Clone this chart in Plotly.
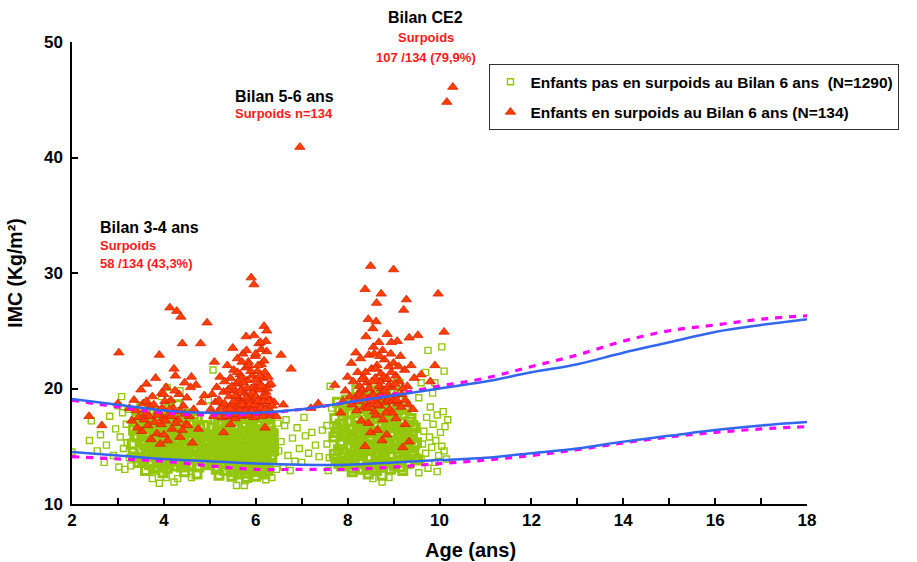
import plotly.graph_objects as go

# ---------------- reference curves (IMC by age) ----------------
curve_age = [2, 3, 4, 5, 6, 7, 8, 9, 10, 11, 12, 13, 14, 15, 16, 17, 18]
upper_blue = [19.1, 18.6, 18.1, 17.9, 17.9, 18.2, 18.8, 19.4, 20.0, 20.6, 21.4, 22.1, 23.1, 24.0, 24.9, 25.5, 26.0]
upper_magenta = [19.0, 18.4, 17.9, 17.7, 17.8, 18.2, 18.8, 19.5, 20.2, 20.9, 21.9, 22.9, 24.1, 25.0, 25.5, 26.0, 26.3]
lower_blue = [14.5, 14.2, 13.9, 13.7, 13.5, 13.4, 13.4, 13.6, 13.8, 14.0, 14.4, 14.8, 15.4, 15.9, 16.4, 16.8, 17.1]
lower_magenta = [14.1, 13.9, 13.7, 13.3, 13.0, 13.0, 13.0, 13.2, 13.5, 13.8, 14.2, 14.7, 15.3, 15.8, 16.2, 16.5, 16.7]

# ---------------- children not overweight (age, IMC) ----------------
green_bilan34_core = [
    (3.31,15.2),(3.34,16.4),(3.36,14.1),(3.38,17.1),(3.42,15.8),(3.44,13.6),(3.47,16.9),(3.49,14.7),
    (3.52,15.5),(3.55,17.6),(3.57,13.9),(3.59,16.2),(3.62,14.4),(3.64,15.9),(3.66,17.3),(3.69,13.4),
    (3.71,16.6),(3.73,14.9),(3.76,15.3),(3.78,17.9),(3.81,14.2),(3.83,16.1),(3.85,13.2),(3.88,15.7),
    (3.9,17.0),(3.92,14.6),(3.95,16.5),(3.97,13.7),(3.99,15.1),(4.02,17.4),(4.04,14.0),(4.06,16.8),
    (4.08,15.4),(4.11,13.5),(4.13,16.3),(4.15,14.8),(4.18,17.7),(4.2,15.0),(4.22,13.3),(4.25,16.0),
    (4.27,14.5),(4.29,17.2),(4.32,15.6),(4.34,13.8),(4.36,16.7),(4.39,14.3),(4.41,15.2),(4.43,17.5),
    (4.46,13.6),(4.48,16.2),(4.5,14.9),(4.53,15.8),(4.55,13.4),(4.57,16.9),(4.6,14.2),(4.62,15.5),
    (4.64,17.1),(4.67,13.9),(4.69,16.4),(4.71,14.7),(4.74,15.3),(4.76,13.2),(4.78,16.6),(4.81,14.4),
    (4.83,15.9),(4.86,13.7),(4.88,16.1),(4.9,14.8),(4.93,15.4),(4.96,13.5),
    (3.33,14.5),(3.37,15.9),(3.41,17.4),(3.46,14.0),(3.5,16.7),(3.54,13.8),(3.58,15.1),(3.61,17.0),
    (3.65,14.2),(3.68,16.0),(3.72,13.5),(3.75,14.8),(3.79,16.4),(3.82,15.5),(3.86,14.4),(3.89,16.2),
    (3.93,13.6),(3.96,15.0),(4.0,16.6),(4.03,14.7),(4.07,13.1),(4.1,15.8),(4.14,17.1),(4.17,14.1),
    (4.21,16.5),(4.24,13.7),(4.28,15.3),(4.31,16.9),(4.35,14.6),(4.38,13.2),(4.42,16.0),(4.45,15.0),
    (4.49,17.8),(4.52,14.0),(4.56,15.7),(4.59,13.3),(4.63,16.3),(4.66,14.6),(4.7,15.0),(4.73,17.4),
    (4.77,13.9),(4.8,15.6),(4.84,14.1),(4.87,16.8),(4.91,13.4),(4.95,15.9),(4.98,14.5),(3.6,12.9),
    (3.98,12.7),(4.45,12.8),(4.72,12.6),(3.8,13.0),(4.12,18.3),(3.7,18.1),(4.3,18.6),(3.52,18.4),
]
green_bilan34_scatter = [
    (2.0,14.5),(2.38,15.5),(2.42,17.2),(2.55,14.6),(2.62,16.0),(2.75,15.1),(2.82,17.6),(2.9,14.2),
    (2.95,16.5),(3.02,13.2),(3.05,15.8),(3.1,17.9),(3.12,14.8),(3.15,13.0),(3.18,16.9),(3.2,15.3),
    (3.22,18.2),(3.25,14.0),(3.28,13.3),(3.0,18.5),(3.08,19.3),(3.95,19.3),(4.05,12.3),(3.9,11.8),
    (4.22,11.9),(4.3,12.2),(3.75,12.2),(4.6,12.3),(4.35,19.8),(2.7,13.6),(4.07,20.1),
]
green_bilan56_core = [
    (5.05,15.0),(5.07,16.6),(5.09,13.8),(5.11,17.3),(5.13,14.6),(5.15,15.8),(5.17,13.2),(5.19,16.9),
    (5.21,14.1),(5.23,15.5),(5.25,17.7),(5.27,13.6),(5.29,16.2),(5.31,14.8),(5.33,12.9),(5.35,15.3),
    (5.37,17.0),(5.39,14.3),(5.41,16.5),(5.43,13.4),(5.45,15.9),(5.47,17.5),(5.49,14.0),(5.51,16.1),
    (5.53,12.8),(5.55,15.2),(5.57,17.2),(5.59,13.7),(5.61,16.7),(5.63,14.5),(5.65,15.6),(5.67,17.9),
    (5.69,13.1),(5.71,16.3),(5.73,14.8),(5.75,15.0),(5.77,12.7),(5.79,17.4),(5.81,14.2),(5.83,16.0),
    (5.85,13.5),(5.87,15.7),(5.89,17.1),(5.91,14.4),(5.93,16.6),(5.95,13.0),(5.97,15.3),(5.99,17.6),
    (6.01,14.1),(6.03,16.2),(6.05,13.6),(6.07,15.9),(6.09,17.0),(6.11,14.7),(6.13,12.9),(6.15,16.4),
    (6.17,15.1),(6.19,13.8),(6.21,17.3),(6.23,14.3),(6.25,15.8),(6.27,13.3),(6.29,16.7),(6.31,14.9),
    (6.33,15.5),(6.35,13.9),(6.37,16.1),(6.39,14.6),
    (5.06,14.2),(5.1,16.0),(5.14,13.0),(5.18,15.1),(5.22,17.0),(5.26,14.9),(5.3,13.5),(5.34,16.4),
    (5.38,15.6),(5.42,14.5),(5.46,13.1),(5.5,17.8),(5.54,14.7),(5.58,16.0),(5.62,12.6),(5.66,14.1),
    (5.7,15.4),(5.74,16.9),(5.78,13.8),(5.82,15.3),(5.86,17.8),(5.9,13.2),(5.94,15.0),(5.98,16.4),
    (6.02,12.8),(6.06,14.9),(6.1,16.8),(6.14,15.5),(6.18,14.0),(6.22,16.0),(6.26,12.9),(6.3,17.6),
    (6.34,14.2),(6.38,15.2),(5.2,12.5),(5.48,12.4),(5.8,12.3),(6.0,12.4),(6.2,12.6),(5.6,18.2),
    (5.84,18.1),(6.06,18.3),(5.4,18.0),(6.25,17.9),(5.55,14.0),(5.72,13.5),(5.92,16.8),(5.64,15.0),
    (5.88,14.6),(5.76,16.2),(5.52,15.9),(6.12,13.4),(5.32,15.2),(5.96,14.0),
    (5.08,15.6),(5.16,16.3),(5.24,14.4),(5.28,15.9),(5.36,13.9),(5.44,16.8),(5.56,15.6),(5.68,14.4),
    (5.86,15.9),(5.94,15.7),(6.04,15.2),(6.16,14.5),(6.24,15.0),(6.32,16.3),(5.46,15.4),(5.66,16.0),
    (5.78,14.9),(6.0,14.7),(5.12,14.9),(5.6,14.2),
]
green_bilan56_scatter = [
    (5.58,11.6),(5.75,11.6),(5.77,12.0),(6.22,12.1),(6.35,12.3),(6.45,13.0),(6.5,14.6),(6.55,15.4),
    (6.6,13.2),(6.63,16.8),(6.7,14.2),(6.75,12.9),(6.8,15.7),(6.85,13.7),(6.9,16.6),(6.95,14.8),
    (7.0,13.6),(7.08,15.9),(7.15,14.4),(7.22,16.2),(7.3,15.1),(7.38,14.1),(7.45,16.4),(6.48,17.0),
    (6.66,17.3),(7.05,17.5),(5.07,21.6),(4.97,19.0),(7.55,15.2),(6.42,16.1),
]
green_ce2_core = [
    (7.7,15.8),(7.72,17.4),(7.75,13.9),(7.77,16.6),(7.8,14.7),(7.82,18.3),(7.85,15.2),(7.87,13.3),
    (7.9,17.0),(7.92,14.4),(7.95,16.1),(7.97,19.0),(8.0,13.7),(8.02,15.6),(8.05,17.8),(8.07,14.9),
    (8.1,16.4),(8.12,13.1),(8.15,18.6),(8.17,15.3),(8.2,14.2),(8.22,17.2),(8.25,16.0),(8.27,13.5),
    (8.3,19.4),(8.32,15.0),(8.35,17.6),(8.37,14.6),(8.4,16.7),(8.42,13.0),(8.45,18.1),(8.47,15.5),
    (8.5,14.0),(8.52,19.8),(8.55,16.3),(8.57,13.4),(8.6,17.4),(8.62,15.1),(8.65,14.3),(8.67,18.8),
    (8.7,16.0),(8.72,13.2),(8.75,17.0),(8.77,15.7),(8.8,14.5),(8.82,19.2),(8.85,16.6),(8.87,13.6),
    (8.9,17.9),(8.92,15.2),(8.95,14.1),(8.97,18.4),(9.0,16.2),(9.02,13.3),(9.05,17.3),(9.07,15.4),
    (9.1,14.4),(9.12,19.0),(9.15,16.5),(9.17,13.8),(9.2,17.7),(9.22,15.0),(9.25,14.6),(9.27,18.2),
    (9.3,16.1),(9.32,13.5),(9.35,17.1),(9.37,15.6),(9.4,14.2),(9.42,16.8),(9.45,15.1),(9.48,13.9),
    (7.71,14.3),(7.74,16.2),(7.78,18.8),(7.81,13.5),(7.84,16.9),(7.88,15.4),(7.91,18.0),(7.94,13.6),
    (7.98,15.9),(8.01,17.2),(8.04,14.1),(8.08,18.9),(8.11,15.6),(8.14,13.9),(8.18,17.5),(8.21,16.2),
    (8.24,14.5),(8.28,18.3),(8.31,13.8),(8.34,16.5),(8.38,15.2),(8.41,19.1),(8.44,14.0),(8.48,17.3),
    (8.51,15.8),(8.54,13.1),(8.58,18.5),(8.61,16.2),(8.64,14.9),(8.68,17.7),(8.71,13.8),(8.74,15.9),
    (8.78,19.5),(8.81,14.0),(8.84,16.8),(8.88,15.1),(8.91,18.6),(8.94,13.5),(8.98,17.0),(9.01,15.5),
    (9.04,14.8),(9.08,18.1),(9.11,16.4),(9.14,13.2),(9.18,15.8),(9.21,17.8),(9.24,14.1),(9.28,16.4),
    (9.31,15.0),(9.34,13.6),(9.38,17.4),(9.41,15.9),(9.44,14.5),(9.47,16.6),(9.5,15.3),(9.52,13.8),
    (8.06,16.0),(8.16,15.0),(8.26,15.8),(8.36,16.9),(8.46,16.4),(8.56,15.0),(8.66,16.2),(8.76,14.2),
    (8.86,15.4),(8.96,16.0),(9.06,16.6),(9.16,15.3),(9.26,16.0),(8.5,17.8),(8.7,14.8),(8.3,14.8),
    (8.9,16.9),(8.4,18.6),(8.6,19.3),(8.8,18.0),(8.2,19.9),(9.0,19.6),(8.33,13.0),(8.63,12.9),
    (8.93,13.0),(8.1,12.8),(9.2,12.9),(8.45,12.6),(8.75,12.5),(9.1,20.4),
]
green_ce2_scatter = [
    (8.75,11.9),(8.55,12.2),(8.9,12.3),(9.55,12.7),(9.6,13.9),(9.63,15.2),(9.66,16.3),(9.7,14.4),
    (9.72,17.5),(9.75,13.1),(9.78,15.8),(9.8,18.4),(9.83,14.9),(9.86,16.9),(9.9,13.6),(9.92,15.5),
    (9.95,17.7),(9.98,14.2),(10.02,16.2),(10.05,15.0),(10.08,18.0),(10.1,14.6),(10.12,16.7),(10.15,13.9),
    (10.18,17.3),(9.75,23.3),(10.05,23.6),(10.1,21.5),(9.6,20.5),(9.85,19.6),(9.9,20.5),(7.6,14.0),
    (7.55,16.8),(7.65,18.3),(7.58,12.9),(9.55,19.2),(7.62,20.2),(9.95,12.8),(9.7,21.4),
]

# ---------------- overweight children (age, IMC) ----------------
red_bilan34 = [
    (2.37,17.6),(2.65,16.8),(3.0,18.7),(3.02,23.1),(3.25,18.3),(3.3,17.2),(3.35,19.0),(3.4,18.1),
    (3.45,17.5),(3.5,19.9),(3.52,16.3),(3.55,18.7),(3.6,17.8),(3.62,20.4),(3.65,16.8),(3.7,18.4),
    (3.72,15.6),(3.75,19.3),(3.8,17.1),(3.82,20.9),(3.85,16.1),(3.88,18.0),(3.9,22.9),(3.92,15.2),
    (3.95,19.6),(3.98,17.4),(4.0,16.0),(4.02,18.9),(4.05,20.1),(4.08,15.5),(4.1,17.7),(4.13,27.0),
    (4.15,19.0),(4.18,16.5),(4.2,18.3),(4.22,21.7),(4.25,21.1),(4.28,26.7),(4.3,17.3),(4.33,19.5),
    (4.35,15.8),(4.37,26.2),(4.4,23.9),(4.42,18.5),(4.45,20.5),(4.48,16.9),(4.5,19.2),(4.55,17.6),
    (4.6,21.0),(4.62,15.3),(4.65,18.2),(4.7,20.3),(4.75,16.5),(4.8,23.9),(4.82,18.8),(4.88,19.4),
    (4.94,25.7),(4.58,20.1),
    (3.42,16.6),(3.58,17.3),(3.68,17.6),(3.78,18.6),(3.86,17.7),(3.94,16.9),(4.04,17.2),(4.12,18.2),
    (4.26,17.0),(4.36,18.0),(4.46,17.8),(4.52,16.8),(3.62,18.9),(4.0,19.5),(4.24,19.8),(4.4,16.4),
    (3.96,18.3),(4.16,17.6),
]
red_bilan56 = [
    (5.02,18.2),(5.05,19.5),(5.08,17.6),(5.1,22.3),(5.12,18.8),(5.15,20.1),(5.18,17.9),(5.2,19.0),
    (5.22,21.0),(5.25,18.4),(5.28,17.5),(5.3,19.7),(5.32,20.6),(5.35,18.1),(5.38,22.0),(5.4,17.8),
    (5.42,19.3),(5.45,20.9),(5.47,18.6),(5.5,17.6),(5.52,21.6),(5.54,19.8),(5.56,18.3),(5.58,20.4),
    (5.6,22.6),(5.62,17.9),(5.64,19.1),(5.66,21.2),(5.68,18.7),(5.7,20.0),(5.72,23.0),(5.74,17.7),
    (5.76,19.6),(5.78,21.8),(5.79,24.5),(5.8,18.4),(5.82,20.7),(5.84,22.3),(5.86,17.9),(5.88,19.4),
    (5.9,29.6),(5.92,21.1),(5.94,18.9),(5.96,29.0),(5.97,20.2),(5.99,22.8),(6.0,18.2),(6.02,19.9),
    (6.04,21.5),(6.06,17.8),(6.07,23.9),(6.08,20.5),(6.1,18.6),(6.12,22.1),(6.14,19.2),(6.16,20.9),
    (6.18,25.4),(6.19,18.0),(6.2,21.4),(6.22,19.7),(6.24,23.2),(6.26,18.5),(6.28,20.3),(6.3,17.7),
    (6.32,19.0),(6.35,17.9),(6.4,18.8),(6.45,17.6),(6.55,22.9),(6.6,18.6),(6.77,21.7),(6.96,40.9),
    (7.2,18.3),(5.9,20.0),(5.6,19.3),(5.75,18.9),(6.0,20.8),(5.85,19.0),(6.1,19.9),(5.65,18.2),
    (6.15,17.6),(5.55,17.4),(5.95,17.5),(5.7,21.0),(6.05,22.0),(5.8,23.3),(6.22,24.1),(5.45,16.9),
    (6.2,16.6),(5.3,16.2),(6.25,20.0),(5.5,23.5),(6.1,24.0),
    (5.32,18.7),(5.36,17.6),(5.4,19.9),(5.44,18.2),(5.48,20.2),(5.52,18.9),(5.56,19.4),(5.58,17.8),
    (5.62,20.6),(5.64,18.5),(5.67,19.8),(5.69,17.6),(5.71,18.6),(5.73,20.5),(5.77,18.0),(5.79,19.2),
    (5.81,20.0),(5.83,17.7),(5.87,18.6),(5.89,21.5),(5.91,18.0),(5.93,19.6),(5.98,18.6),(6.01,19.3),
    (6.03,17.9),(6.05,18.9),(6.09,21.1),(6.11,18.3),(6.13,20.2),(6.17,18.9),(6.21,18.2),(6.23,19.3),
    (6.27,21.0),(6.29,18.9),(6.33,20.4),(6.36,18.5),(5.6,21.4),(5.85,22.0),(6.0,23.0),(6.12,23.4),
    (5.96,24.6),(5.7,22.3),(6.18,22.4),(6.24,25.0),
]
red_ce2 = [
    (7.36,18.7),(7.72,20.3),(7.9,18.9),(7.95,19.8),(8.0,21.0),(8.05,19.3),(8.08,22.2),(8.1,18.6),
    (8.12,20.6),(8.15,19.0),(8.18,23.1),(8.2,18.1),(8.22,21.4),(8.24,19.6),(8.26,20.2),(8.28,22.6),
    (8.3,17.2),(8.32,19.9),(8.34,21.0),(8.36,18.4),(8.38,28.6),(8.38,15.0),(8.4,24.5),(8.42,20.5),
    (8.44,19.1),(8.46,22.9),(8.48,18.6),(8.5,30.6),(8.5,16.2),(8.52,21.7),(8.54,19.5),(8.55,25.2),
    (8.56,23.6),(8.58,18.0),(8.6,20.9),(8.62,17.7),(8.63,27.4),(8.64,22.0),(8.66,19.2),(8.68,24.0),
    (8.7,18.5),(8.72,21.3),(8.73,28.2),(8.74,20.0),(8.75,15.5),(8.76,23.3),(8.77,17.3),(8.78,19.6),
    (8.8,22.5),(8.82,18.8),(8.84,20.8),(8.86,24.7),(8.88,19.0),(8.9,21.9),(8.92,18.2),(8.94,23.0),
    (8.96,20.1),(8.98,17.9),(9.0,30.3),(9.0,22.2),(9.02,19.4),(9.05,21.1),(9.08,24.1),(9.1,18.7),
    (9.12,20.6),(9.15,22.8),(9.18,19.5),(9.2,14.9),(9.22,26.8),(9.24,21.6),(9.28,27.7),(9.3,20.2),
    (9.32,18.6),(9.34,24.4),(9.34,15.4),(9.38,22.0),(9.42,18.2),(9.45,20.9),(9.53,24.6),(9.6,21.2),
    (9.8,20.6),(9.9,22.0),(9.97,28.2),(10.1,24.9),(10.16,44.8),(10.29,46.1),(7.85,17.9),(8.45,17.0),
    (8.65,16.4),(9.05,17.4),(9.25,16.9),(8.85,16.0),(8.7,20.6),(8.6,19.0),(8.9,20.3),
    (8.22,18.9),(8.27,19.5),(8.31,20.8),(8.35,19.3),(8.39,21.4),(8.43,18.3),(8.47,20.0),(8.51,18.9),
    (8.53,20.6),(8.57,19.4),(8.61,21.7),(8.65,18.6),(8.69,20.2),(8.71,19.4),(8.79,21.0),(8.81,19.8),
    (8.83,17.9),(8.87,20.8),(8.91,19.2),(8.95,21.4),(8.99,18.9),(9.03,20.4),(9.07,19.0),(9.11,21.9),
    (9.16,18.4),(9.2,20.0),(9.26,19.0),(8.58,23.0),(8.7,22.8),(8.95,24.0),(8.45,26.0),(8.62,25.8),
]

x_ticks = [2, 4, 6, 8, 10, 12, 14, 16, 18]
y_ticks = [10, 20, 30, 40, 50]

green_core = green_bilan34_core + green_bilan56_core + green_ce2_core
green_scatter = green_bilan34_scatter + green_bilan56_scatter + green_ce2_scatter
red_pts = red_bilan34 + red_bilan56 + red_ce2

BLUE = "#3366ee"
MAGENTA = "#ff00ff"
GREEN = "#94c60c"
RED_FILL = "#ff4000"
RED_EDGE = "#d92000"

fig = go.Figure()

fig.add_trace(go.Scatter(
    x=[p[0] for p in green_scatter], y=[p[1] for p in green_scatter], mode="markers",
    name="Enfants pas en surpoids au Bilan 6 ans  (N=1290)", legendgroup="g",
    marker=dict(symbol="square-open", size=6, color=GREEN, line=dict(width=1.4, color=GREEN)),
))
fig.add_trace(go.Scatter(
    x=[p[0] for p in green_core], y=[p[1] for p in green_core], mode="markers",
    name="Enfants pas en surpoids au Bilan 6 ans  (N=1290)", legendgroup="g", showlegend=False,
    marker=dict(symbol="square-open", size=8, color=GREEN, line=dict(width=3, color=GREEN)),
))
fig.add_trace(go.Scatter(
    x=[p[0] for p in red_pts], y=[p[1] for p in red_pts], mode="markers",
    name="Enfants en surpoids au Bilan 6 ans (N=134)", legendgroup="r",
    marker=dict(symbol="triangle-up", size=9, color=RED_FILL, line=dict(width=0.8, color=RED_EDGE)),
))

for ys, col, dash, w in [(upper_magenta, MAGENTA, "dash", 3.2), (lower_magenta, MAGENTA, "dash", 3.2),
                         (upper_blue, BLUE, "solid", 2.5), (lower_blue, BLUE, "solid", 2.5)]:
    fig.add_trace(go.Scatter(
        x=curve_age, y=ys, mode="lines", showlegend=False, hoverinfo="skip",
        line=dict(color=col, width=w, dash=dash if dash == "solid" else "7px,7px", shape="spline"),
    ))

BOLD = dict(family="Liberation Sans, Arial, sans-serif", weight="bold")

fig.update_layout(
    width=917, height=562,
    margin=dict(l=72, r=110, t=42, b=58),
    plot_bgcolor="white", paper_bgcolor="white",
    showlegend=True,
    legend=dict(
        x=0.568, y=0.952, xanchor="left", yanchor="top",
        bgcolor="white", bordercolor="#333", borderwidth=1,
        font=dict(size=15.5, color="black", **BOLD),
        tracegroupgap=7, traceorder="grouped", itemwidth=30,
    ),
    xaxis=dict(
        range=[2, 18], tickvals=x_ticks, ticktext=[str(v) for v in x_ticks],
        showline=True, linecolor="black", linewidth=1.5, mirror=False,
        ticks="inside", ticklen=6, tickwidth=1.5, tickcolor="black",
        minor=dict(dtick=1, tick0=2, ticks="inside", ticklen=6, tickwidth=1.5, tickcolor="black"),
        showgrid=False, zeroline=False,
        tickfont=dict(size=17, color="black", **BOLD),
    ),
    yaxis=dict(
        range=[10, 50], tickvals=y_ticks, ticktext=[str(v) for v in y_ticks],
        showline=True, linecolor="black", linewidth=1.5, mirror=False,
        ticks="inside", ticklen=6, tickwidth=1.5, tickcolor="black",
        showgrid=False, zeroline=False, ticklabelstandoff=4,
        tickfont=dict(size=17, color="black", **BOLD),
        title=dict(text="IMC (Kg/m²)", font=dict(size=19.5, color="black", **BOLD), standoff=16),
    ),
)

# x-axis title (placed as in the reference, slightly right of centre)
fig.add_annotation(x=0.5415, y=-0.0996, xref="paper", yref="paper", text="Age (ans)",
                   showarrow=False, xanchor="center", yanchor="middle",
                   font=dict(size=20, color="black", **BOLD))

anns = [
    ("Bilan 3-4 ans", 2.566, "x", 33.98, "y", "left", 16, "black"),
    ("Surpoids", 2.566, "x", 32.34, "y", "left", 13, "#ff1a1a"),
    ("58 /134 (43,3%)", 2.566, "x", 30.78, "y", "left", 13, "#ff1a1a"),
    ("Bilan 5-6 ans", 5.505, "x", 45.32, "y", "left", 16, "black"),
    ("Surpoids n=134", 5.505, "x", 43.77, "y", "left", 13, "#ff1a1a"),
    ("Bilan CE2", 9.706, "x", 1.052, "paper", "center", 16, "black"),
    ("Surpoids", 9.706, "x", 1.0088, "paper", "center", 13, "#ff1a1a"),
    ("107 /134 (79,9%)", 9.706, "x", 0.9675, "paper", "center", 13, "#ff1a1a"),
]
for txt, ax, xr, ay, yr, anchor, size, col in anns:
    fig.add_annotation(x=ax, y=ay, xref=xr, yref=yr, text=txt, showarrow=False,
                       xanchor=anchor, yanchor="middle",
                       font=dict(size=size, color=col, **BOLD))

fig.write_html("out.html")
